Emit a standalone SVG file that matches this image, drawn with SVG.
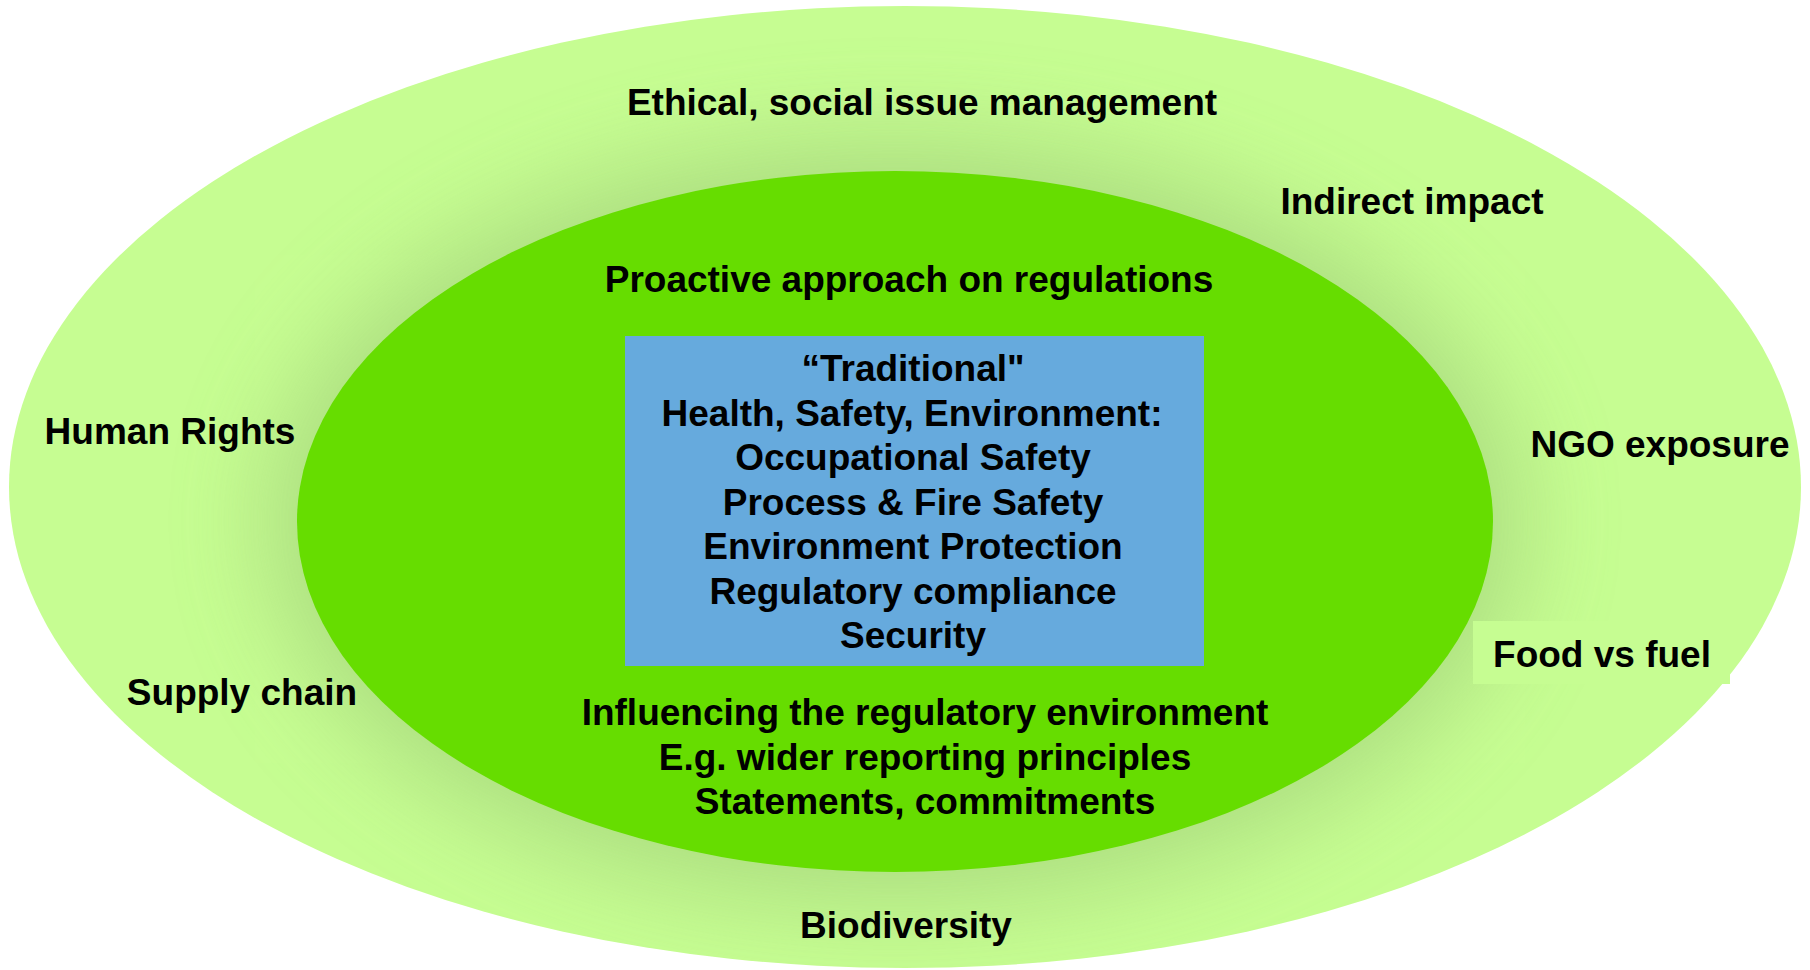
<svg xmlns="http://www.w3.org/2000/svg" width="1810" height="970" viewBox="0 0 1810 970">
<style>
  text { font-family: "Liberation Sans", Arial, sans-serif; font-weight: bold; font-size: 37px; fill: #000; text-anchor: middle; }
</style>
<defs>
  <clipPath id="outerClip"><ellipse cx="905" cy="487" rx="896" ry="481"/></clipPath>
  <filter id="blur" x="-30%" y="-30%" width="160%" height="160%"><feGaussianBlur stdDeviation="45"/></filter>
</defs>
<rect width="1810" height="970" fill="#ffffff"/>
<g id="outer">
  <ellipse cx="905" cy="487" rx="896" ry="481" fill="#C6FD92"/>
  <g clip-path="url(#outerClip)">
    <ellipse cx="895" cy="521" rx="630" ry="385" fill="#A9DA7E" filter="url(#blur)" opacity="0.85"/>
  </g>
  <rect x="1473" y="621" width="257" height="63" fill="#C6FD92"/>
  <text x="922" y="115">Ethical, social issue management</text>
  <text x="1412" y="214">Indirect impact</text>
  <text x="170" y="444">Human Rights</text>
  <text x="1660" y="457">NGO exposure</text>
  <text x="1602" y="667">Food vs fuel</text>
  <text x="242" y="705">Supply chain</text>
  <text x="906" y="938">Biodiversity</text>
</g>
<g id="inner">
  <ellipse cx="895" cy="521.5" rx="598" ry="350.5" fill="#66DD00"/>
  <text x="909" y="292">Proactive approach on regulations</text>
  <text x="925" y="725">Influencing the regulatory environment</text>
  <text x="925" y="770">E.g. wider reporting principles</text>
  <text x="925" y="814">Statements, commitments</text>
</g>
<g id="core">
  <rect x="625" y="336" width="579" height="330" fill="#66AADD"/>
  <text x="913" y="381">“Traditional"</text>
  <text x="912" y="426">Health, Safety, Environment:</text>
  <text x="913" y="470">Occupational Safety</text>
  <text x="913" y="515">Process &amp; Fire Safety</text>
  <text x="913" y="559">Environment Protection</text>
  <text x="913" y="604">Regulatory compliance</text>
  <text x="913" y="648">Security</text>
</g>
<g id="connectors"></g>
</svg>
